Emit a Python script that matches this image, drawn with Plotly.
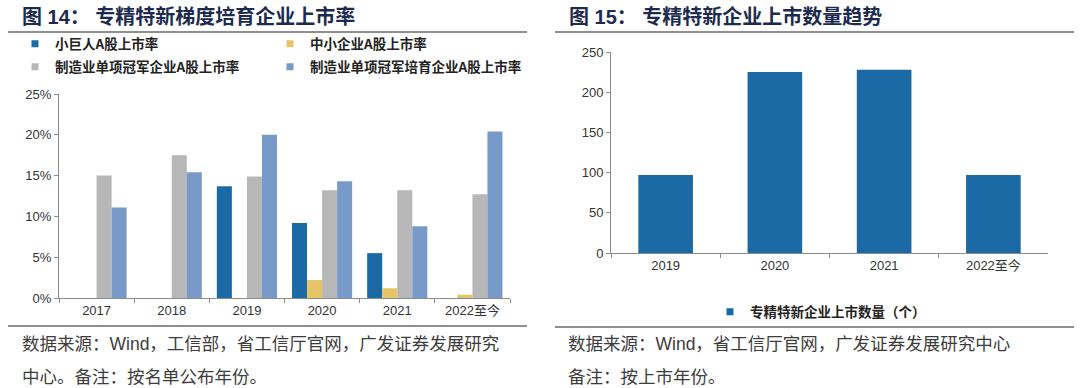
import plotly.graph_objects as go

# ---------------- data ----------------
years_left = ["2017", "2018", "2019", "2020", "2021", "2022至今"]
little_giant = [None, None, 13.7, 9.2, 5.5, None]          # 小巨人A股上市率
sme = [None, None, None, 2.2, 1.2, 0.4]                    # 中小企业A股上市率
champion = [15.0, 17.5, 14.9, 13.2, 13.2, 12.7]            # 制造业单项冠军企业A股上市率
champion_cult = [11.1, 15.4, 20.0, 14.3, 8.8, 20.4]        # 制造业单项冠军培育企业A股上市率

years_right = ["2019", "2020", "2021", "2022至今"]
listed_count = [97, 225, 228, 97]                          # 专精特新企业上市数量（个）

left_y_ticks = [0, 5, 10, 15, 20, 25]
right_y_ticks = [0, 50, 100, 150, 200, 250]

# ---------------- style ----------------
W, H = 1080, 388
C_DARK = "#1B6AA5"
C_YEL = "#E5C566"
C_GRAY = "#B7B7B7"
C_LB = "#779AC8"
TICK_FONT = dict(family="Liberation Sans, Arial, Noto Sans CJK SC", size=13, color="#333333")
LEG_FONT = dict(family="Noto Sans CJK SC", size=13.5, color="#222222", weight="bold")
TITLE_FONT = dict(family="Liberation Sans, Noto Sans CJK SC", size=20, color="#1d2b4f", weight="bold")
SRC_FONT = dict(family="Liberation Sans, Noto Sans CJK SC", size=17.5, color="#3c3c3c")


def px_x(x):
    return x / W


def px_y(y):
    return 1 - y / H


fig = go.Figure()

left_series = [
    ("小巨人A股上市率", little_giant, C_DARK, "legend"),
    ("中小企业A股上市率", sme, C_YEL, "legend"),
    ("制造业单项冠军企业A股上市率", champion, C_GRAY, "legend2"),
    ("制造业单项冠军培育企业A股上市率", champion_cult, C_LB, "legend2"),
]
for name, vals, col, _ in left_series:
    fig.add_trace(go.Bar(x=years_left, y=vals, name=name, marker=dict(color=col, line=dict(width=0)),
                         showlegend=False, xaxis="x", yaxis="y"))
# legend entries (small square markers)
for name, vals, col, leg in left_series:
    fig.add_trace(go.Scatter(x=[None], y=[None], mode="markers", name=name,
                             marker=dict(symbol="square", size=7, color=col),
                             legend=leg, xaxis="x", yaxis="y"))

fig.add_trace(go.Bar(x=years_right, y=listed_count, name="专精特新企业上市数量（个）",
                     marker=dict(color=C_DARK, line=dict(width=0)), width=0.5,
                     showlegend=False, xaxis="x2", yaxis="y2"))
fig.add_trace(go.Scatter(x=[None], y=[None], mode="markers", name="专精特新企业上市数量（个）",
                         marker=dict(symbol="square", size=7, color=C_DARK),
                         legend="legend3", xaxis="x2", yaxis="y2"))

axis_common = dict(showline=True, linecolor="#8c8c8c", linewidth=1, ticks="outside",
                   tickcolor="#8c8c8c", ticklen=4, showgrid=False, zeroline=False,
                   tickfont=TICK_FONT, fixedrange=True, automargin=False)

fig.update_layout(
    width=W, height=H, autosize=False,
    margin=dict(l=0, r=0, t=0, b=0, pad=0, autoexpand=False),
    paper_bgcolor="white", plot_bgcolor="white",
    barmode="group", bargap=0.2, bargroupgap=0,
    xaxis=dict(domain=[px_x(59), px_x(510)], type="category", categoryorder="array",
               categoryarray=years_left, tickson="boundaries", anchor="y", **axis_common),
    yaxis=dict(domain=[px_y(298), px_y(94)], range=[0, 25], tickvals=left_y_ticks,
               ticktext=[f"{v}%" for v in left_y_ticks], anchor="x", **axis_common),
    xaxis2=dict(domain=[px_x(611), px_x(1048)], type="category", categoryorder="array",
                categoryarray=years_right, tickson="boundaries", anchor="y2", **axis_common),
    yaxis2=dict(domain=[px_y(253), px_y(52)], range=[0, 250], tickvals=right_y_ticks,
                anchor="x2", **axis_common),
    legend=dict(orientation="h", x=px_x(15), y=px_y(44), xanchor="left", yanchor="middle",
                entrywidth=210, font=LEG_FONT, bgcolor="rgba(0,0,0,0)", itemwidth=30,
                tracegroupgap=0),
    legend2=dict(orientation="h", x=px_x(15), y=px_y(67), xanchor="left", yanchor="middle",
                 entrywidth=210, font=LEG_FONT, bgcolor="rgba(0,0,0,0)", itemwidth=30,
                 tracegroupgap=0),
    legend3=dict(orientation="h", x=px_x(710), y=px_y(312), xanchor="left", yanchor="middle",
                 font=LEG_FONT, bgcolor="rgba(0,0,0,0)", itemwidth=30),
)

# titles
fig.add_annotation(text="图 14： 专精特新梯度培育企业上市率", x=px_x(20), y=px_y(17), xref="paper", yref="paper",
                   xanchor="left", yanchor="middle", showarrow=False, font=TITLE_FONT)
fig.add_annotation(text="图 15： 专精特新企业上市数量趋势", x=px_x(567), y=px_y(17), xref="paper", yref="paper",
                   xanchor="left", yanchor="middle", showarrow=False, font=TITLE_FONT)

# source notes
notes = [
    ("数据来源：Wind，工信部，省工信厅官网，广发证券发展研究", 20, 344),
    ("中心。备注：按名单公布年份。", 20, 377),
    ("数据来源：Wind，省工信厅官网，广发证券发展研究中心", 566, 344),
    ("备注：按上市年份。", 566, 377),
]
for t, x, y in notes:
    fig.add_annotation(text=t, x=px_x(x), y=px_y(y), xref="paper", yref="paper",
                       xanchor="left", yanchor="middle", showarrow=False, font=SRC_FONT)

# separator rules
for x0, x1, y in [(8, 527, 32), (8, 527, 326), (555, 1074, 32), (555, 1074, 327)]:
    fig.add_shape(type="line", xref="paper", yref="paper", x0=px_x(x0), x1=px_x(x1),
                  y0=px_y(y), y1=px_y(y), line=dict(color="#6a6a6a", width=1.5))

fig.write_html("out.html", config={"displayModeBar": False, "staticPlot": True},
               post_script="document.body.style.margin='0px';document.body.style.overflow='hidden';")
